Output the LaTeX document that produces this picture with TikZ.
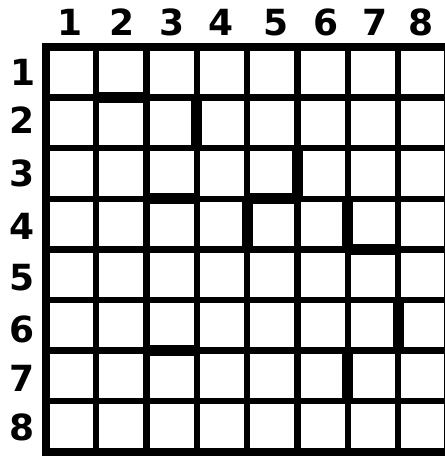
\documentclass[tikz,border=0pt]{standalone}
\usepackage{fontspec}
\newfontfamily\digitfont{DejaVu Sans}
\tikzset{
  gridline/.style={line width=6.3pt},
  frameline/.style={line width=8.5pt},
  wall/.style={line width=11pt},
  numlabel/.style={font=\digitfont\bfseries\fontsize{36}{36}\selectfont,inner sep=0pt}
}
\begin{document}
\begin{tikzpicture}[x=50.3pt,y=-50.6pt]
    \useasboundingbox (-0.9145,-0.9289) rectangle (7.932,8.083);

    % board
    \foreach \i in {1,...,7} {
        \draw[gridline] (\i,0) -- (\i,8);
        \draw[gridline] (0,\i) -- (8,\i);
    }
    \draw[frameline] (0,0) rectangle (8,8);

    % walls
    \draw[wall] (1,1) -- (2,1);
    \draw[wall] (3,1) -- (3,2);
    \draw[wall] (2,3) -- (3,3);
    \draw[wall] (5,2) -- (5,3);
    \draw[wall] (4,3) -- (5,3);
    \draw[wall] (4,3) -- (4,4);
    \draw[wall] (6,3) -- (6,4);
    \draw[wall] (6,4) -- (7,4);
    \draw[wall] (2,6) -- (3,6);
    \draw[wall] (7,5) -- (7,6);
    \draw[wall] (6,6) -- (6,7);

    % column numbers
    \node[numlabel] (c1) at (0.48,-0.49) {1};
    \node[numlabel] (c2) at (1.51,-0.49) {2};
    \node[numlabel] (c3) at (2.50,-0.49) {3};
    \node[numlabel] (c4) at (3.48,-0.49) {4};
    \node[numlabel] (c5) at (4.57,-0.49) {5};
    \node[numlabel] (c6) at (5.57,-0.49) {6};
    \node[numlabel] (c7) at (6.54,-0.49) {7};
    \node[numlabel] (c8) at (7.45,-0.49) {8};

    % row numbers
    \node[numlabel] (r1) at (-0.45,0.51) {1};
    \node[numlabel] (r2) at (-0.47,1.45) {2};
    \node[numlabel] (r3) at (-0.47,2.49) {3};
    \node[numlabel] (r4) at (-0.47,3.55) {4};
    \node[numlabel] (r5) at (-0.47,4.56) {5};
    \node[numlabel] (r6) at (-0.47,5.58) {6};
    \node[numlabel] (r7) at (-0.47,6.54) {7};
    \node[numlabel] (r8) at (-0.47,7.52) {8};
\end{tikzpicture}
\end{document}
